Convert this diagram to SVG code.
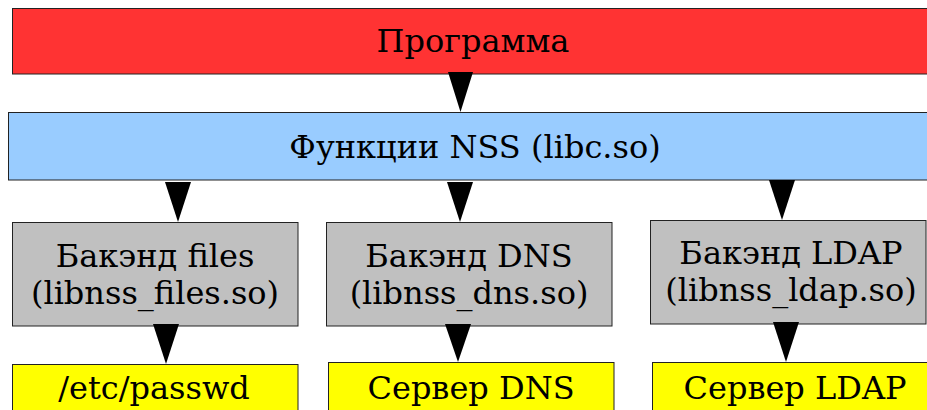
<svg xmlns="http://www.w3.org/2000/svg" width="927" height="410" viewBox="0 0 927 410">
<style>
.box{stroke:#222;stroke-width:1}
.t{font-family:"DejaVu Serif",serif;font-size:32px;text-anchor:middle;fill:#000}
.arr{fill:#000;stroke:none}
</style>
<rect width="927" height="410" fill="#fff"/>
<g id="prog"><rect class="box" x="12.5" y="8.5" width="930" height="65.5" fill="#ff3333"/><text class="t" x="473" y="52">Программа</text></g>
<g id="nss"><rect class="box" x="8.5" y="112.5" width="930" height="67.5" fill="#99ccff"/><text class="t" x="475" y="158">Функции NSS (libc.so)</text></g>
<g id="bfiles"><rect class="box" x="12.5" y="222.5" width="285.5" height="103.5" fill="#c0c0c0"/><text class="t" x="155" y="267">Бакэнд files</text><text class="t" x="155" y="304">(libnss_files.so)</text></g>
<g id="bdns"><rect class="box" x="326.5" y="222.5" width="285.5" height="103.5" fill="#c0c0c0"/><text class="t" x="469" y="267">Бакэнд DNS</text><text class="t" x="469" y="304">(libnss_dns.so)</text></g>
<g id="bldap"><rect class="box" x="650.5" y="220.5" width="275.5" height="103.5" fill="#c0c0c0"/><text class="t" x="791" y="264">Бакэнд LDAP</text><text class="t" x="791" y="301">(libnss_ldap.so)</text></g>
<g id="passwd"><rect class="box" x="12.5" y="364.5" width="285.5" height="60" fill="#ffff00"/><text class="t" x="154" y="399">/etc/passwd</text></g>
<g id="sdns"><rect class="box" x="328.5" y="362.5" width="285.5" height="60" fill="#ffff00"/><text class="t" x="471" y="399">Сервер DNS</text></g>
<g id="sldap"><rect class="box" x="652.5" y="362.5" width="300" height="60" fill="#ffff00"/><text class="t" x="795" y="399">Сервер LDAP</text></g>
<g id="edges">
<polygon class="arr" points="448,72 473,72 460.5,112"/>
<polygon class="arr" points="165,182 191,182 178,222"/>
<polygon class="arr" points="447,182 473,182 460,222"/>
<polygon class="arr" points="769,180 795,180 782,220"/>
<polygon class="arr" points="153,324 179,324 166,364"/>
<polygon class="arr" points="445,324 471,324 458,362"/>
<polygon class="arr" points="773,322 799,322 786,362"/>
</g>
</svg>
